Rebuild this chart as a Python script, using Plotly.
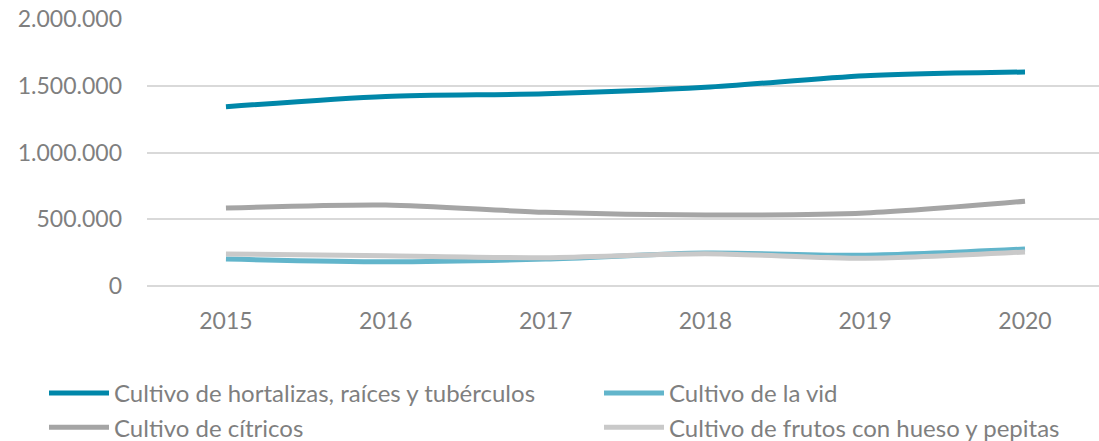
import plotly.graph_objects as go

years = ["2015", "2016", "2017", "2018", "2019", "2020"]

hortalizas = [1343000, 1420000, 1440000, 1488000, 1575000, 1603000]
vid = [202000, 182000, 202000, 247000, 230000, 277000]
citricos = [584000, 607000, 552000, 532000, 547000, 635000]
frutos = [240000, 226000, 212000, 242000, 208000, 255000]

# (name, values, colour, legend column)
series = [
    ("Cultivo de hortalizas, raíces y tubérculos", hortalizas, "#0087a9", "legend"),
    ("Cultivo de la vid", vid, "#62b5cb", "legend2"),
    ("Cultivo de cítricos", citricos, "#a5a5a5", "legend"),
    ("Cultivo de frutos con hueso y pepitas", frutos, "#c9c9c9", "legend2"),
]

FONT = "Lato, 'Open Sans', sans-serif"
GREY = "#7f7f7f"
W, H = 1099, 441
L, R, T, B = 147, 0, 19, 155
PW, PH = W - L - R, H - T - B

fig = go.Figure()
for name, values, color, leg in series:
    fig.add_trace(go.Scatter(
        x=years, y=values, name=name, mode="lines", legend=leg,
        line=dict(color=color, width=5, shape="spline", smoothing=0.8),
    ))


def column_legend(px_left, px_top):
    # vertical legend block placed by pixel position below the plot area
    return dict(
        orientation="v", traceorder="normal",
        x=(px_left - L) / PW, y=-(px_top - T - PH) / PH,
        xanchor="left", yanchor="top",
        itemwidth=60, tracegroupgap=0,
        bgcolor="rgba(0,0,0,0)",
        font=dict(family=FONT, size=24, color=GREY),
    )


fig.update_layout(
    width=W, height=H,
    margin=dict(l=L, r=R, t=T, b=B, autoexpand=False),
    paper_bgcolor="white", plot_bgcolor="white",
    separators=",.",
    font=dict(family=FONT, size=24, color=GREY),
    showlegend=True,
    legend=column_legend(44, 371),
    legend2=column_legend(599, 371),
    xaxis=dict(
        type="category", range=[-0.494, 5.463],
        showgrid=False, zeroline=False, showline=False,
        ticks="", ticklabelstandoff=19,
        tickfont=dict(family=FONT, size=23, color=GREY),
    ),
    yaxis=dict(
        range=[0, 2000000], tickvals=[0, 500000, 1000000, 1500000, 2000000],
        tickformat=",d",
        showgrid=True, gridcolor="#d9d9d9", gridwidth=1.5,
        zeroline=True, zerolinecolor="#d9d9d9", zerolinewidth=1.5,
        showline=False, ticks="", ticklabelstandoff=24,
        tickfont=dict(family=FONT, size=23, color=GREY),
    ),
)

fig.write_html("out.html")
